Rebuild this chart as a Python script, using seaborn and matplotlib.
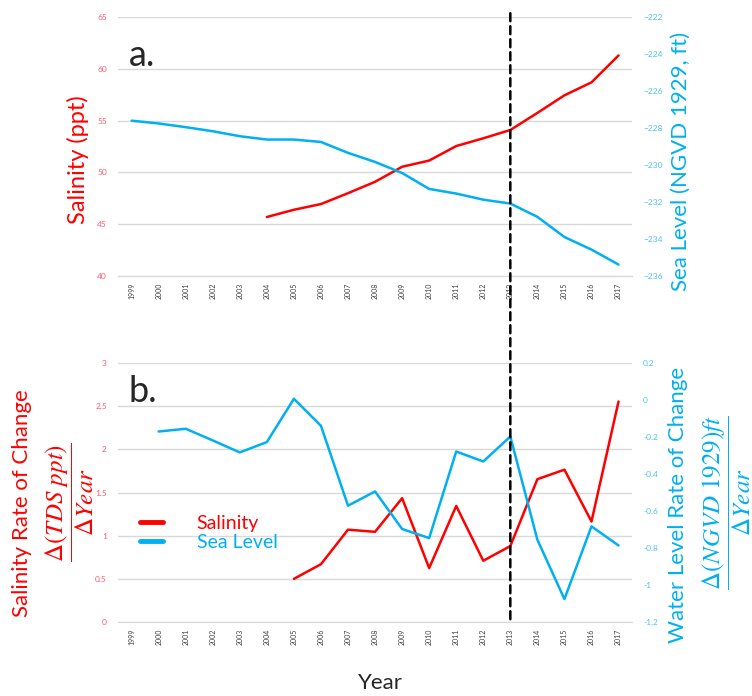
import numpy as np
import matplotlib
matplotlib.use("Agg")
import matplotlib.pyplot as plt
from matplotlib.patches import ConnectionPatch
from matplotlib.lines import Line2D
import seaborn as sns

years = np.arange(1999, 2018)

# panel a: salinity (ppt) from 2004, sea level (NGVD 1929, ft) from 1999
sal_years = np.arange(2004, 2018)
salinity = [45.7, 46.4, 46.95, 48.0, 49.1, 50.55, 51.15, 52.55, 53.3, 54.1,
            55.75, 57.45, 58.7, 61.3]
sea_level = [-227.6, -227.75, -227.95, -228.17, -228.44, -228.62, -228.62,
             -228.75, -229.34, -229.83, -230.43, -231.29, -231.54, -231.87,
             -232.08, -232.8, -233.89, -234.57, -235.38]

# panel b: rates of change
sal_rate_years = np.arange(2005, 2018)
sal_rate = [0.50, 0.67, 1.07, 1.045, 1.435, 0.625, 1.345, 0.71, 0.88,
            1.655, 1.765, 1.165, 2.555]
sea_rate_years = np.arange(2000, 2018)
sea_rate = [-0.17, -0.155, -0.218, -0.283, -0.227, 0.007, -0.139, -0.571,
            -0.494, -0.697, -0.746, -0.278, -0.332, -0.197, -0.755, -1.076,
            -0.683, -0.786]

RED = "#ff0000"
BLUE = "#00b0f0"
TICK_RED = "#ff5a6e"
TICK_BLUE = "#4dc3f0"
GRID = "#d9d9d9"

sns.set_style("white")
plt.rcParams["font.family"] = ["Lato", "DejaVu Sans"]
plt.rcParams["mathtext.fontset"] = "stix"

fig = plt.figure(figsize=(7.52, 6.96), dpi=100)
ax1 = fig.add_axes([0.157, 0.6034, 0.6835, 0.372])
ax2 = fig.add_axes([0.157, 0.1063, 0.6835, 0.372])
ax1r = ax1.twinx()
ax2r = ax2.twinx()

sns.lineplot(x=sal_years, y=salinity, ax=ax1, color=RED, lw=1.8)
sns.lineplot(x=years, y=sea_level, ax=ax1r, color=BLUE, lw=1.8)
sns.lineplot(x=sal_rate_years, y=sal_rate, ax=ax2, color=RED, lw=1.8)
sns.lineplot(x=sea_rate_years, y=sea_rate, ax=ax2r, color=BLUE, lw=1.8)

ax1.set_ylim(40, 65)
ax1.set_yticks(np.arange(40, 66, 5))
ax1r.set_ylim(-236, -222)
ax1r.set_yticks(np.arange(-236, -221, 2))
ax2.set_ylim(0, 3)
ax2.set_yticks(np.arange(0, 3.01, 0.5))
ax2.set_yticklabels(["0", "0.5", "1", "1.5", "2", "2.5", "3"])
ax2r.set_ylim(-1.2, 0.2)
ax2r.set_yticks(np.arange(-1.2, 0.21, 0.2))
ax2r.set_yticklabels(["-1.2", "-1", "-0.8", "-0.6", "-0.4", "-0.2", "0", "0.2"])

for ax, axr in [(ax1, ax1r), (ax2, ax2r)]:
    ax.set_xlim(1998.5, 2017.5)
    ax.set_xticks(years)
    ax.set_xticklabels([str(y) for y in years], rotation=90, fontsize=5,
                       color="#404040")
    ax.tick_params(axis="x", length=3, color="#bfbfbf", width=0.8, pad=2)
    ax.tick_params(axis="y", length=0, labelsize=6, labelcolor=TICK_RED, pad=8)
    axr.tick_params(axis="y", length=0, labelsize=6, labelcolor=TICK_BLUE, pad=8)
    ax.yaxis.grid(True, color=GRID, lw=1)
    ax.set_axisbelow(True)
    ax.set_xlabel("")
    ax.set_ylabel("")
    axr.set_ylabel("")
    for a in (ax, axr):
        for s in ["top", "left", "right"]:
            a.spines[s].set_visible(False)
        a.spines["bottom"].set_color(GRID)

ax1.set_ylabel("Salinity (ppt)", color=RED, fontsize=17)
ax1.yaxis.set_label_coords(-0.056, 0.448)
ax1r.set_ylabel("Sea Level (NGVD 1929, ft)", color=BLUE, fontsize=16,
                rotation=90)
ax1r.yaxis.set_label_coords(1.075, 0.442)

ax1.text(0.022, 0.81, "a.", transform=ax1.transAxes, fontsize=26,
         va="baseline")
ax2.text(0.021, 0.849, "b.", transform=ax2.transAxes, fontsize=26,
         va="baseline")

# left label of panel b
fig.text(22 / 752, 1 - 503 / 696, "Salinity Rate of Change", rotation=90,
         color=RED, fontsize=16, ha="center", va="center")
fig.text(70 / 752, 1 - 502 / 696, r"$\dfrac{\Delta(TDS\ ppt)}{\Delta Year}$",
         rotation=90, color=RED, fontsize=18, ha="center", va="center")
# right label of panel b
fig.text(678 / 752, 1 - 505 / 696, "Water Level Rate of Change", rotation=90,
         color=BLUE, fontsize=16, ha="center", va="center")
fig.text(727 / 752, 1 - 502 / 696,
         r"$\dfrac{\Delta(NGVD\ 1929)ft}{\Delta Year}$",
         rotation=90, color=BLUE, fontsize=18, ha="center", va="center")

fig.text(380 / 752, 1 - 683 / 696, "Year", fontsize=16, ha="center",
         va="center")

handles = [Line2D([], [], color=RED, lw=3.5), Line2D([], [], color=BLUE, lw=3.5)]
ax2r.legend(handles, ["Salinity", "Sea Level"], loc="center left",
            bbox_to_anchor=(0.043, 0.344), frameon=False, fontsize=14,
            labelcolor=[RED, BLUE], handlelength=1.2, handletextpad=1.7,
            labelspacing=0.1, borderpad=0, borderaxespad=0)

# dashed marker at 2013 across both panels
con = ConnectionPatch(xyA=(2013, 1.015), coordsA=ax1.get_xaxis_transform(),
                      xyB=(2013, 0.0), coordsB=ax2.get_xaxis_transform(),
                      color="black", lw=1.8, linestyle=(0, (3.2, 2)))
fig.add_artist(con)

fig.savefig("out.png", dpi=100)
